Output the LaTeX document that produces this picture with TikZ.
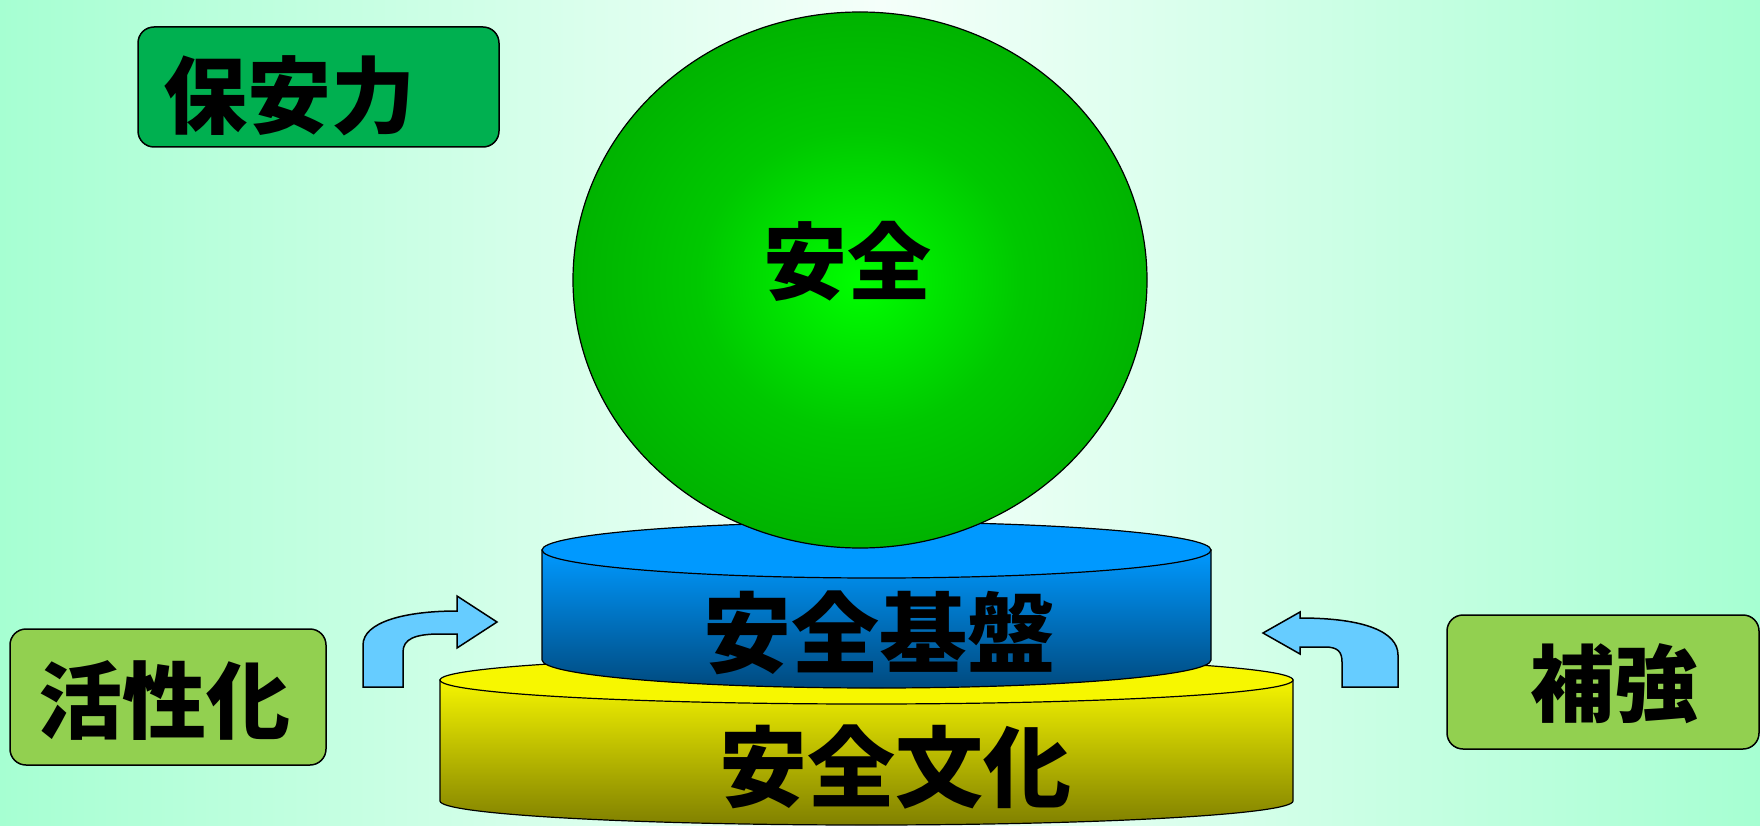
\documentclass[tikz,border=0pt]{standalone}
\usepackage{fontspec}
\newfontfamily\jpfont{Noto Sans CJK JP Black}
\definecolor{mint}{HTML}{A6FFD2}
\definecolor{bgmid}{HTML}{F5FFFA}
\definecolor{hoangreen}{HTML}{00B050}
\definecolor{leaf}{HTML}{92D050}
\definecolor{sky}{HTML}{66CCFF}
\definecolor{bluetop}{HTML}{0099FF}
\definecolor{bluebot}{HTML}{004A7F}
\definecolor{yeltop}{HTML}{FFFF00}
\definecolor{yelbot}{HTML}{808000}
\definecolor{ballin}{HTML}{00FF00}
\definecolor{ballmid}{HTML}{00C800}
\definecolor{balldark}{HTML}{00A600}
\definecolor{ballout}{HTML}{009900}
\pgfdeclareradialshading{ball}{\pgfpoint{0bp}{0bp}}{color(0bp)=(ballin); color(14bp)=(ballmid); color(32bp)=(balldark); color(50bp)=(ballout)}
\begin{document}
\begin{tikzpicture}[x=1pt,y=-1pt,
    lbl/.style={font=\jpfont\fontsize{84}{84}\selectfont,inner sep=0pt},
    big/.style={font=\jpfont\fontsize{88}{88}\selectfont,inner sep=0pt},
    tag/.style={draw,line width=1.5pt,rounded corners=16pt},
    bentarrow/.style={draw,fill=sky,line width=1.5pt}]
    \useasboundingbox (0,0) rectangle (1760,826);
    \shade[left color=mint,right color=mint,middle color=bgmid] (0,0) rectangle (1760,826);
    \shade[draw,line width=1.2pt,top color=yeltop!96!black,bottom color=yelbot]
        (440,680) -- (440,801) arc[start angle=180,end angle=0,x radius=426.5,y radius=24] -- (1293,680) -- cycle;
    \filldraw[fill=yeltop!97!black,line width=1.2pt] (866.5,680) ellipse[x radius=426.5,y radius=24];
    \shade[draw,line width=1.2pt,top color=bluetop,bottom color=bluebot]
        (542,550) -- (542,660) arc[start angle=180,end angle=0,x radius=334.5,y radius=28] -- (1211,550) -- cycle;
    \filldraw[fill=bluetop,line width=1.2pt] (876.5,550) ellipse[x radius=334.5,y radius=28];
    \shade[draw,line width=1.2pt,shading=ball] (860,280) ellipse[x radius=287,y radius=268];
    \node[lbl] (anzen) at (847,261) {安全};
    \node[big] (kiban) at (879,633) {安全基盤};
    \node[big] (bunka) at (895,767) {安全文化};
    \draw[tag,fill=hoangreen] (138,27) rectangle (499,147);
    \node[lbl] (hoan) at (289,96) {保安力};
    \draw[tag,fill=leaf] (10,629) rectangle (326,765);
    \node[lbl] (kassei) at (164,700) {活性化};
    \draw[tag,fill=leaf] (1447,615) rectangle (1759,749);
    \node[lbl] (hokyo) at (1614,684) {補強};
    \path[bentarrow] (363,687) -- (363,645) .. controls (363,622) and (405,611) .. (457,611)
        -- (457,596) -- (497,622) -- (457,648) -- (457,634) -- (440,634)
        .. controls (415,634) and (403,639) .. (403,652) -- (403,687) -- cycle;
    \path[bentarrow] (1398,687) -- (1398,655) .. controls (1398,632) and (1365,618) .. (1300,618)
        -- (1300,612) -- (1263,633) -- (1300,654) -- (1300,647) -- (1325,647)
        .. controls (1338,647) and (1342,652) .. (1342,662) -- (1342,687) -- cycle;
\end{tikzpicture}
\end{document}
